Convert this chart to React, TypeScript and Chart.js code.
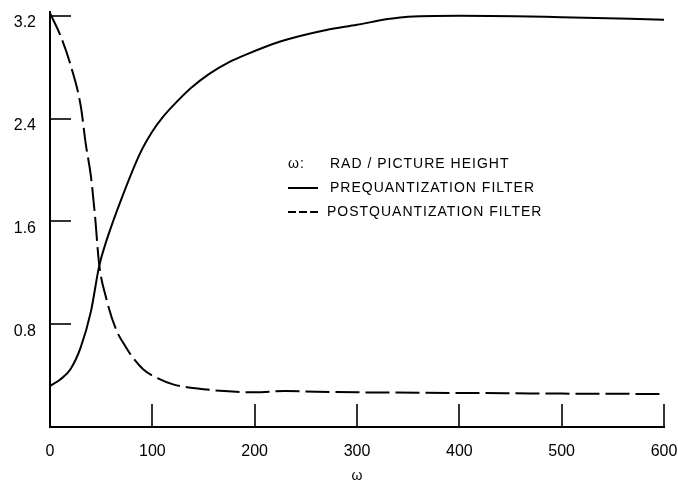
import React, { useEffect, useRef } from 'react';
import { Chart, registerables } from 'chart.js';

Chart.register(...registerables);

// Prequantization filter (solid)
const PRE_OMEGA = [0, 10, 20, 30, 40, 48, 56, 70, 88, 100, 110, 125, 138, 156, 175, 192, 225, 270, 300, 330, 345, 400, 500, 600];
const PRE_VALUES = [0.32, 0.37, 0.45, 0.62, 0.9, 1.25, 1.47, 1.78, 2.13, 2.3, 2.41, 2.54, 2.64, 2.75, 2.84, 2.9, 3.0, 3.09, 3.13, 3.175, 3.19, 3.2, 3.19, 3.17];

// Postquantization filter (dashed)
const POST_OMEGA = [0, 10, 20, 30, 35, 40, 44, 48, 55, 65, 72, 80, 91, 105, 121, 144, 170, 200, 230, 260, 300, 400, 500, 600];
const POST_VALUES = [3.22, 3.05, 2.82, 2.5, 2.2, 1.95, 1.64, 1.27, 1.0, 0.75, 0.65, 0.55, 0.45, 0.38, 0.33, 0.3, 0.28, 0.27, 0.28, 0.275, 0.27, 0.265, 0.26, 0.257];

const X_TICKS = [0, 100, 200, 300, 400, 500, 600];
const Y_TICKS = [0.8, 1.6, 2.4, 3.2];

const X_TITLE = 'ω';
const LEGEND_HEAD = 'ω:';
const LEGEND_LINES = ['RAD / PICTURE HEIGHT', 'PREQUANTIZATION FILTER', 'POSTQUANTIZATION FILTER'];

const FONT = '"Liberation Sans", Arial, sans-serif';

const innerTicks = {
  id: 'innerTicks',
  afterDraw(chart: any) {
    const { ctx, scales } = chart;
    const x = scales.x;
    const y = scales.y;
    ctx.save();
    ctx.strokeStyle = '#000';
    ctx.lineWidth = 1.6;
    X_TICKS.filter((v) => v > 0).forEach((v) => {
      const px = Math.round(x.getPixelForValue(v));
      ctx.beginPath();
      ctx.moveTo(px, y.bottom);
      ctx.lineTo(px, y.bottom - 23);
      ctx.stroke();
    });
    Y_TICKS.forEach((v) => {
      const py = Math.round(y.getPixelForValue(v));
      ctx.beginPath();
      ctx.moveTo(x.left, py);
      ctx.lineTo(x.left + 21, py);
      ctx.stroke();
    });
    ctx.restore();
  },
};

const legendText = {
  id: 'legendText',
  afterDraw(chart: any) {
    const { ctx } = chart;
    ctx.save();
    ctx.fillStyle = '#000';
    ctx.strokeStyle = '#000';
    ctx.textBaseline = 'middle';
    ctx.font = `14px ${FONT}`;
    (ctx as any).letterSpacing = '1px';
    const rows = [164, 188, 212];
    ctx.fillText(LEGEND_HEAD, 288, rows[0]);
    ctx.fillText(LEGEND_LINES[0], 330, rows[0]);
    // solid sample
    ctx.lineWidth = 2;
    ctx.beginPath();
    ctx.moveTo(288, rows[1]);
    ctx.lineTo(318, rows[1]);
    ctx.stroke();
    ctx.fillText(LEGEND_LINES[1], 330, rows[1]);
    // dashed sample
    ctx.setLineDash([8, 3]);
    ctx.beginPath();
    ctx.moveTo(288, rows[2]);
    ctx.lineTo(321, rows[2]);
    ctx.stroke();
    ctx.setLineDash([]);
    ctx.fillText(LEGEND_LINES[2], 327, rows[2]);
    ctx.restore();
  },
};

export default function App() {
  const ref = useRef<HTMLCanvasElement | null>(null);

  useEffect(() => {
    if (!ref.current) return;
    Chart.defaults.color = '#000';
    const chart = new Chart(ref.current, {
      type: 'line',
      data: {
        datasets: [
          {
            label: LEGEND_LINES[1],
            data: PRE_OMEGA.map((w, i) => ({ x: w, y: PRE_VALUES[i] })),
            borderColor: '#000',
            borderWidth: 2,
            pointRadius: 0,
            cubicInterpolationMode: 'monotone',
            fill: false,
          },
          {
            label: LEGEND_LINES[2],
            data: POST_OMEGA.map((w, i) => ({ x: w, y: POST_VALUES[i] })),
            borderColor: '#000',
            borderWidth: 2,
            borderDash: [24, 6],
            pointRadius: 0,
            cubicInterpolationMode: 'monotone',
            fill: false,
          },
        ],
      },
      options: {
        responsive: false,
        animation: false,
        devicePixelRatio: 1,
        layout: { padding: { top: 12, right: 14, left: 0, bottom: 0 } },
        plugins: {
          legend: { display: false },
          tooltip: { enabled: false },
        },
        scales: {
          x: {
            type: 'linear',
            min: 0,
            max: 600,
            afterBuildTicks: (s: any) => {
              s.ticks = X_TICKS.map((v) => ({ value: v }));
            },
            afterFit: (s: any) => {
              s.height = 56;
              s.paddingLeft = 0;
              s.paddingRight = 0;
            },
            grid: { display: true, color: 'rgba(0,0,0,0)', drawTicks: false, drawOnChartArea: false },
            border: { display: true, color: '#000', width: 2 },
            ticks: {
              autoSkip: false,
              maxRotation: 0,
              padding: 15,
              font: { family: FONT, size: 16 },
              color: '#000',
              callback: (v: any) => String(v),
            },
            title: {
              display: true,
              text: X_TITLE,
              color: '#000',
              font: { family: FONT, size: 14, lineHeight: 1 },
              padding: { top: 0, bottom: 0 },
            },
          },
          y: {
            type: 'linear',
            min: 0,
            max: 3.23,
            afterBuildTicks: (s: any) => {
              s.ticks = Y_TICKS.map((v) => ({ value: v }));
            },
            afterFit: (s: any) => {
              s.width = 50;
              s.paddingTop = 0;
              s.paddingBottom = 0;
            },
            grid: { display: true, color: 'rgba(0,0,0,0)', drawTicks: false, drawOnChartArea: false },
            border: { display: true, color: '#000', width: 2 },
            ticks: {
              autoSkip: false,
              padding: 14,
              labelOffset: 7,
              font: { family: FONT, size: 16 },
              color: '#000',
              callback: (v: any) => Number(v).toFixed(1),
            },
          },
        },
      },
      plugins: [innerTicks, legendText],
    });
    return () => chart.destroy();
  }, []);

  return (
    <div style={{ position: 'absolute', left: 0, top: 0, width: 678, height: 483, background: '#fff' }}>
      <canvas ref={ref} width={678} height={483} />
    </div>
  );
}
